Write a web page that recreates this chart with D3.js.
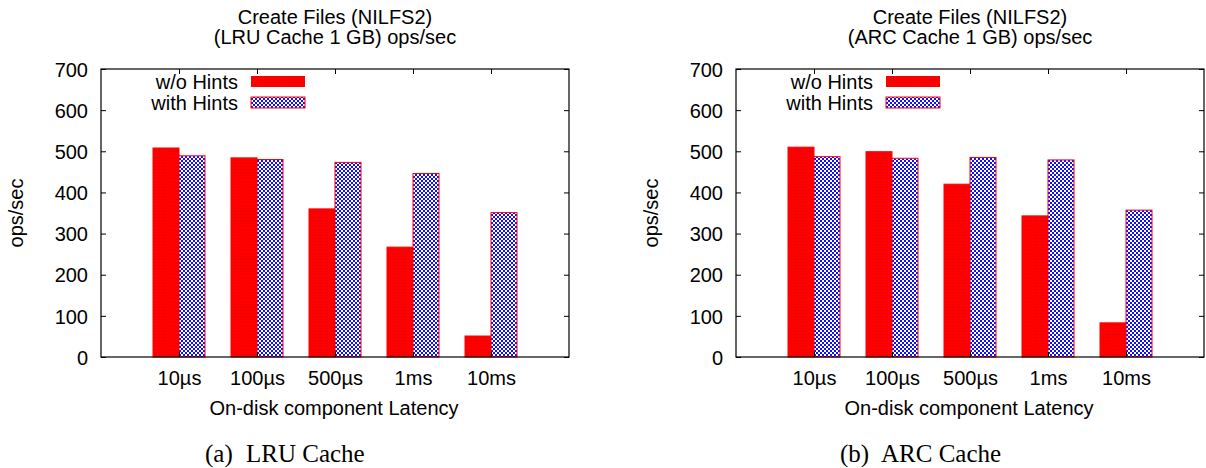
<!DOCTYPE html>
<html>
<head>
<meta charset="utf-8">
<script src="https://cdn.jsdelivr.net/npm/d3@7"></script>
<style>
  body { margin: 0; background: #fff; }
  text { font-family: "Liberation Sans", Arial, Helvetica, sans-serif; fill: #000; }
  .caption { font-family: "Liberation Serif", "Times New Roman", serif; }
</style>
</head>
<body>
<script>
// latency categories on the x axis
var latencies = ["10\u00b5s", "100\u00b5s", "500\u00b5s", "1ms", "10ms"];
var yTicks = [0, 100, 200, 300, 400, 500, 600, 700];
var seriesNames = ["w/o Hints", "with Hints"];

// ops/sec
var lruNoHints   = [508, 484, 360, 267, 51];
var lruWithHints = [489, 480, 473, 446, 351];
var arcNoHints   = [510, 499, 420, 343, 83];
var arcWithHints = [487, 483, 485, 479, 357];

var panels = [
  {title: "(LRU Cache 1 GB) ops/sec", tag: "(a)", caption: "LRU Cache", left: 101, series: [lruNoHints, lruWithHints]},
  {title: "(ARC Cache 1 GB) ops/sec", tag: "(b)", caption: "ARC Cache", left: 736, series: [arcNoHints, arcWithHints]}
];

var W = 1206, H = 468;
var plotTop = 69, plotBottom = 357, boxW = 468;

var svg = d3.select("body").append("svg")
  .attr("width", W)
  .attr("height", H);

// fills: fine red dots and blue/white checker
var defs = svg.append("defs");
var pr = defs.append("pattern").attr("id", "redfill")
  .attr("patternUnits", "userSpaceOnUse").attr("width", 3).attr("height", 3);
pr.append("rect").attr("width", 3).attr("height", 3).attr("fill", "#ff0000");
pr.append("rect").attr("x", 1).attr("y", 1).attr("width", 1).attr("height", 1).attr("fill", "#e80000");

var pb = defs.append("pattern").attr("id", "bluefill")
  .attr("patternUnits", "userSpaceOnUse").attr("width", 4).attr("height", 4);
pb.append("rect").attr("width", 4).attr("height", 4).attr("fill", "#ffffff");
pb.append("rect").attr("width", 2).attr("height", 2).attr("fill", "#1010ff");
pb.append("rect").attr("x", 2).attr("y", 2).attr("width", 2).attr("height", 2).attr("fill", "#1010ff");

var fills = ["url(#redfill)", "url(#bluefill)"];

panels.forEach(function(p) {
  var g = svg.append("g").attr("transform", "translate(" + p.left + ",0)");

  var x = d3.scaleLinear().domain([-1, 5]).range([0, boxW]);
  var y = d3.scaleLinear().domain([0, 700]).range([plotBottom, plotTop]);
  var barW = x(1 / 3) - x(0);

  // bars
  p.series.forEach(function(vals, s) {
    g.selectAll(".bar" + s)
      .data(vals)
      .enter().append("rect")
      .attr("class", "bar" + s)
      .attr("x", function(d, i) { return x(i) + (s - 1) * barW; })
      .attr("y", function(d) { return y(d); })
      .attr("width", barW)
      .attr("height", function(d) { return y(0) - y(d); })
      .attr("fill", fills[s])
      .attr("stroke", "#ff0000")
      .attr("stroke-width", 1);
  });

  // y axis, ticks pointing in
  var yAxis = d3.axisLeft(y).tickValues(yTicks).tickSizeInner(-5).tickSizeOuter(0).tickPadding(13);
  var ya = g.append("g").call(yAxis);
  ya.selectAll("text").style("font-size", "20px").attr("dy", "0.36em");

  g.append("g").attr("transform", "translate(" + boxW + ",0)")
    .call(d3.axisRight(y).tickValues(yTicks).tickSizeInner(-5).tickSizeOuter(0).tickFormat(""));

  // x axis
  var xAxis = d3.axisBottom(x).tickValues(d3.range(latencies.length))
    .tickFormat(function(i) { return latencies[i]; })
    .tickSizeInner(-5).tickSizeOuter(0).tickPadding(14);
  var xa = g.append("g").attr("transform", "translate(0," + plotBottom + ")").call(xAxis);
  xa.selectAll("text").style("font-size", "20px");

  g.append("g").attr("transform", "translate(0," + plotTop + ")")
    .call(d3.axisTop(x).tickValues(d3.range(latencies.length)).tickSizeInner(-5).tickSizeOuter(0).tickFormat(""));

  g.selectAll(".domain").remove();
  g.selectAll(".tick line").attr("stroke", "#000");

  // frame
  g.append("rect")
    .attr("x", 0).attr("y", plotTop)
    .attr("width", boxW).attr("height", plotBottom - plotTop)
    .attr("fill", "none").attr("stroke", "#000").attr("stroke-width", 1.2);

  // titles
  g.append("text").attr("x", boxW / 2).attr("y", 24).attr("text-anchor", "middle")
    .style("font-size", "20px").text("Create Files (NILFS2)");
  g.append("text").attr("x", boxW / 2).attr("y", 44).attr("text-anchor", "middle")
    .style("font-size", "20px").text(p.title);

  g.append("text").attr("x", boxW / 2 - 1).attr("y", 415).attr("text-anchor", "middle")
    .style("font-size", "20px").text("On-disk component Latency");

  // y label, left of the tick labels
  g.append("text")
    .attr("transform", "translate(-78," + ((plotTop + plotBottom) / 2) + ") rotate(-90)")
    .attr("text-anchor", "middle")
    .style("font-size", "20px").text("ops/sec");

  // legend
  seriesNames.forEach(function(name, s) {
    g.append("text").attr("x", 137).attr("y", 89 + s * 21).attr("text-anchor", "end")
      .style("font-size", "20px").text(name);
    g.append("rect").attr("x", 150).attr("y", 76 + s * 21)
      .attr("width", 54).attr("height", 11)
      .attr("fill", fills[s]).attr("stroke", s ? "#ff0000" : "none");
  });

  // sub caption
  g.append("text").attr("class", "caption").attr("x", 104).attr("y", 462)
    .style("font-size", "25px").text(p.tag);
  g.append("text").attr("class", "caption").attr("x", 145).attr("y", 462)
    .style("font-size", "25px").text(p.caption);
});
</script>
</body>
</html>
